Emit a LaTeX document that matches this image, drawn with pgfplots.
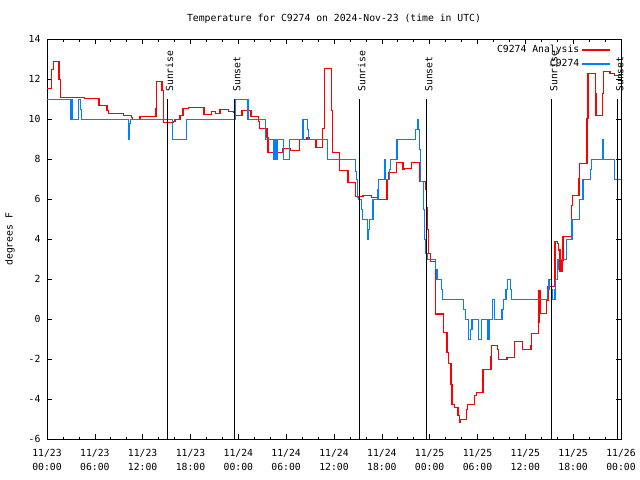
\documentclass[border=0pt]{standalone}
\usepackage{fontspec}
\setmainfont{DejaVu Sans Mono}
\usepackage{pgfplots}
\pgfplotsset{compat=1.18}
\usepackage{pgfplotstable}
\definecolor{obsblue}{RGB}{0,128,255}

\pgfplotstableread{
t v
0 11.55
0.59 12.5
0.79 12.9
1.51 12.0
1.67 11.1
4.68 11.03
6.52 10.7
7.53 10.45
7.69 10.3
9.62 10.2
10.62 10.08
10.70 10.0
11.67 10.15
13.67 10.55
13.76 11.9
14.43 11.45
14.59 9.83
15.84 9.9
16.06 10.0
16.68 10.2
17.06 10.55
17.72 10.6
19.69 10.25
20.66 10.4
21.16 10.3
21.70 10.5
22.74 10.4
23.46 10.35
23.62 10.2
24.46 10.45
25.59 10.13
26.56 9.9
26.63 9.55
27.60 9.1
27.72 8.35
29.57 8.55
30.52 8.45
31.65 9.0
32.61 9.1
32.90 9.0
33.74 8.6
34.58 9.55
34.78 12.55
35.69 10.45
35.81 8.35
36.69 7.45
37.76 6.85
38.67 6.15
39.64 6.2
40.68 6.1
41.61 6.0
42.65 7.0
42.86 7.35
43.82 7.85
44.66 7.5
44.87 7.55
45.70 7.85
46.70 6.9
47.45 6.5
47.63 5.6
47.75 4.5
47.88 3.3
48.08 2.9
48.71 0.27
49.76 -0.65
50.18 -1.65
50.39 -2.2
50.68 -3.25
50.80 -4.25
51.09 -4.4
51.56 -4.8
51.77 -5.15
51.87 -5.0
52.60 -4.5
52.77 -4.25
53.65 -3.8
53.85 -3.65
54.69 -2.5
55.70 -1.85
55.78 -1.3
56.54 -1.5
56.66 -2.0
57.70 -1.9
58.62 -1.1
59.67 -1.5
60.68 -1.3
60.80 -0.7
61.63 -0.15
61.72 1.45
61.93 0.3
62.63 0.97
62.85 1.63
63.69 3.88
64.01 3.8
64.19 3.47
64.35 2.38
64.60 2.97
64.73 4.13
65.77 5.7
65.89 6.2
66.73 7.05
66.82 7.8
67.74 10.05
67.86 12.3
68.78 11.3
68.87 10.2
69.66 11.3
69.78 12.38
70.62 12.3
71.21 12.2
72.00 12.2
}\analysis

\pgfplotstableread{
t v
0 11
2.97 10
3.07 11
3.22 10
3.93 11
4.23 10.5
4.35 10
10.20 9
10.32 9.8
10.47 10
15.74 9
17.47 10
23.58 11
25.21 10
27.38 9
28.39 8
28.50 9
28.57 8
28.68 9
28.75 8
28.85 9
29.69 8
30.39 9
32.11 10
32.70 9.5
32.83 9
35.21 8
38.67 7.4
38.80 7
38.92 6.1
39.10 6
39.43 5.5
39.55 5
40.18 4.5
40.27 4
40.35 4.5
40.43 5
40.89 6
41.52 6.5
41.61 7
42.36 8
42.46 7
42.99 7.5
43.11 8
43.90 9
46.20 9.5
46.45 10
46.63 9.5
46.75 8.5
46.88 6.9
47.25 5.5
47.38 4
47.45 3.3
47.67 3
48.71 2.5
48.92 2
49.46 1.5
49.64 1
52.27 0.5
52.47 0
52.90 -1
53.10 -0.5
53.31 0
54.15 -1
54.48 0
55.32 -1
55.53 0
55.86 1
56.13 0
57.08 0.5
57.29 1
57.58 1.5
57.79 2
58.12 1.5
58.27 1
62.76 1.5
62.97 2
63.26 1.5
63.35 1
63.69 1.5
63.81 2
64.01 2.5
64.10 3
65.14 4
65.86 5
66.82 6
67.24 7
68.20 7.5
68.28 8
69.66 9
69.83 8
71.21 7
72.00 7
}\observed

\begin{document}
\begin{tikzpicture}[font=\fontsize{9.8}{11}\selectfont]
\path[use as bounding box] (0,0) rectangle (640bp,480bp);
\begin{axis}[
  at={(47bp,40.7bp)}, anchor=south west,
  scale only axis, width=574bp, height=400bp,
  xmin=0, xmax=72, ymin=-6, ymax=14,
  xtick={0,6,...,72},
  minor x tick num=2,
  ytick={-6,-4,...,14},
  xticklabels={{11/23\\00:00},{11/23\\06:00},{11/23\\12:00},{11/23\\18:00},
               {11/24\\00:00},{11/24\\06:00},{11/24\\12:00},{11/24\\18:00},
               {11/25\\00:00},{11/25\\06:00},{11/25\\12:00},{11/25\\18:00},
               {11/26\\00:00}},
  xticklabel style={align=center, font=\fontsize{9.8}{14}\selectfont, yshift=-6bp},
  yticklabel style={xshift=-3bp},
  /pgf/number format/assume math mode=true,
  tick align=inside,
  major tick length=5bp, minor tick length=2.5bp,
  tick style={black, line width=0.6bp},
  axis line style={line width=0.8bp},
  clip=false,
  title={Temperature for C9274 on 2024-Nov-23 (time in UTC)},
  title style={at={(axis description cs:0.5,1)}, anchor=base, yshift=12bp},
  ylabel={degrees F},
  ylabel style={at={(axis description cs:-0.0645,0.5)}, anchor=center, rotate=0},
  legend style={at={(axis description cs:1,1)}, anchor=north east, draw=none, fill=none,
    xshift=-9bp, yshift=-3bp, row sep=1bp, inner sep=1bp},
  legend cell align=right,
  legend plot pos=right,
  legend image code/.code={\draw[#1] (0bp,0bp) -- (28bp,0bp);},
]
\addplot[const plot, red, line width=1.5bp, line join=miter] table[x=t, y=v] {\analysis};
\addlegendentry{C9274 Analysis}
\addplot[const plot, obsblue, line width=1.5bp, line join=miter] table[x=t, y=v] {\observed};
\addlegendentry{C9274}
\addplot[black, line width=1bp, forget plot] coordinates {(15.06,11) (15.06,-6)};
\addplot[black, line width=1bp, forget plot] coordinates {(23.50,11) (23.50,-6)};
\addplot[black, line width=1bp, forget plot] coordinates {(39.18,11) (39.18,-6)};
\addplot[black, line width=1bp, forget plot] coordinates {(47.60,11) (47.60,-6)};
\addplot[black, line width=1bp, forget plot] coordinates {(63.27,11) (63.27,-6)};
\addplot[black, line width=1bp, forget plot] coordinates {(71.56,11) (71.56,-6)};
\node[rotate=90, anchor=base west, inner sep=0] at (axis cs:15.81,11.37) {Sunrise};
\node[rotate=90, anchor=base west, inner sep=0] at (axis cs:24.25,11.37) {Sunset};
\node[rotate=90, anchor=base west, inner sep=0] at (axis cs:39.93,11.37) {Sunrise};
\node[rotate=90, anchor=base west, inner sep=0] at (axis cs:48.35,11.37) {Sunset};
\node[rotate=90, anchor=base west, inner sep=0] at (axis cs:64.02,11.37) {Sunrise};
\node[rotate=90, anchor=base west, inner sep=0] at (axis cs:72.31,11.37) {Sunset};
\end{axis}
\end{tikzpicture}
\end{document}
